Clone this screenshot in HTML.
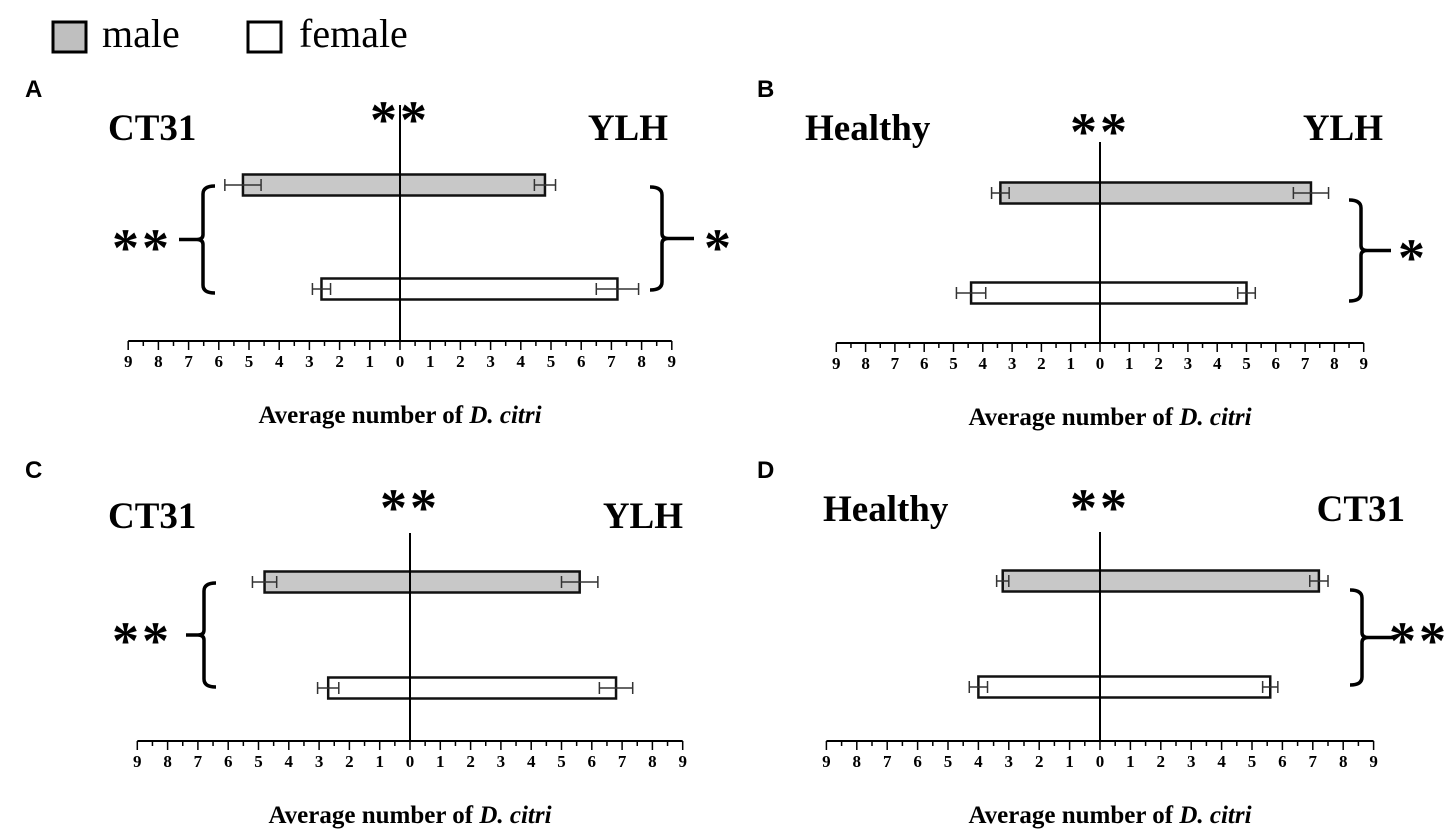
<!DOCTYPE html>
<html><head><meta charset="utf-8"><style>
html,body{margin:0;padding:0;background:#fff}
svg{display:block}
text{font-family:"Liberation Serif",serif;fill:#000}
</style></head><body>
<svg id="fig" width="1453" height="832" viewBox="0 0 1453 832">
<g>
<rect x="53" y="22" width="33" height="30" fill="#bfbfbf" stroke="#000" stroke-width="3"/>
<text x="102" y="47" font-size="40">male</text>
<rect x="248" y="22" width="33" height="30" fill="#fff" stroke="#000" stroke-width="3"/>
<text x="299" y="47" font-size="40">female</text>
</g>
<g id="panels"></g>
</svg>
<script>
// Panel A: CT31 (left) vs YLH (right)
const aLeft = [5.2, 2.6];      // male, female
const aLeftErr = [0.6, 0.3];
const aRight = [4.8, 7.2];
const aRightErr = [0.35, 0.7];
// Panel B: Healthy vs YLH
const bLeft = [3.4, 4.4];
const bLeftErr = [0.3, 0.5];
const bRight = [7.2, 5.0];
const bRightErr = [0.6, 0.3];
// Panel C: CT31 vs YLH
const cLeft = [4.8, 2.7];
const cLeftErr = [0.4, 0.35];
const cRight = [5.6, 6.8];
const cRightErr = [0.6, 0.55];
// Panel D: Healthy vs CT31
const dLeft = [3.2, 4.0];
const dLeftErr = [0.2, 0.3];
const dRight = [7.2, 5.6];
const dRightErr = [0.3, 0.25];
const tickLabels = [9,8,7,6,5,4,3,2,1,0,1,2,3,4,5,6,7,8,9];
const seriesNames = ["male","female"];

const NS = "http://www.w3.org/2000/svg";
const root = document.getElementById("panels");
function mk(tag, attrs, parent) {
  const e = document.createElementNS(NS, tag);
  for (const k in attrs) e.setAttribute(k, attrs[k]);
  parent.appendChild(e);
  return e;
}
function txt(parent, x, y, s, size, anchor, weight) {
  const t = mk("text", {x:x, y:y, "font-size":size, "text-anchor":anchor||"start", "font-weight":weight||"bold"}, parent);
  t.textContent = s;
  return t;
}
function stars(parent, x, y, s) {
  const t = txt(parent, x, y, s, 54, "middle", "bold");
  t.setAttribute("letter-spacing", "3");
  return t;
}
function brace(parent, x, y1, y2, dir, tipLen) {
  const h = 12 * -dir, ym = (y1 + y2) / 2;
  const d = `M${x+h},${y1} Q${x},${y1} ${x},${y1+8} L${x},${ym-5} Q${x},${ym} ${x+dir*6},${ym} L${x+dir*tipLen},${ym} M${x+dir*6},${ym} Q${x},${ym} ${x},${ym+5} L${x},${y2-8} Q${x},${y2} ${x+h},${y2}`;
  const p = mk("path", {d:d, fill:"none", stroke:"#000", "stroke-width":3.5}, parent);
  
  
}
function panel(cfg) {
  const g = mk("g", {}, root);
  
  
  const sx = v => cfg.x0 + v * cfg.unit;
  const lt = txt(g, cfg.letterX, cfg.letterY, cfg.letter, 24, "start", "bold");
  lt.style.fontFamily = '"Liberation Sans",sans-serif';
  
  
  const l1 = txt(g, cfg.leftLabelX, cfg.labelY, cfg.leftName, 37, "start");
  
  
  const l2 = txt(g, cfg.rightLabelX, cfg.labelY, cfg.rightName, 37, "end");
  
  
  const st = stars(g, cfg.x0, cfg.starY, "**");
  
  
  const ax = mk("line", {x1:sx(-9), x2:sx(9), y1:cfg.axisY, y2:cfg.axisY, stroke:"#000", "stroke-width":2}, g);
  
  
  for (let i = -18; i <= 18; i++) {
    const v = i / 2, major = i % 2 === 0;
    const tk = mk("line", {x1:sx(v), x2:sx(v), y1:cfg.axisY, y2:cfg.axisY + (major ? 9 : 5), stroke:"#000", "stroke-width":1.5}, g);
    
    
  }
  tickLabels.forEach((lab, i) => {
    const t = txt(g, sx(i - 9), cfg.axisY + 26, String(lab), 17, "middle");
    
    
  });
  const title = mk("text", {x:cfg.titleX, y:cfg.axisY + 82, "font-size":25, "font-weight":"bold", "text-anchor":"middle"}, g);
  title.innerHTML = 'Average number of <tspan font-style="italic">D. citri</tspan>';
  
  
  seriesNames.forEach((s, k) => {
    const cy = cfg.barY[k], h = 21;
    const r = mk("rect", {x:sx(-cfg.left[k]), y:cy - h/2, width:sx(cfg.right[k]) - sx(-cfg.left[k]), height:h, fill:k === 0 ? "#c8c8c8" : "#fff", stroke:"#111", "stroke-width":2.5}, g);
    
    
    const errs = [[-cfg.left[k], -cfg.leftErr[k]], [cfg.right[k], cfg.rightErr[k]]];
    errs.forEach(([v, e]) => {
      const e1 = sx(v - e), e2 = sx(v + e);
      const eg = mk("path", {d:`M${e1},${cy} L${e2},${cy} M${e1},${cy-6} L${e1},${cy+6} M${e2},${cy-6} L${e2},${cy+6}`, stroke:"#333", "stroke-width":1.5, fill:"none"}, g);
      
      
    });
  });
  const vl = mk("line", {x1:cfg.x0, x2:cfg.x0, y1:cfg.vTop, y2:cfg.axisY, stroke:"#000", "stroke-width":2}, g);
  
  
  cfg.brackets.forEach(b => {
    brace(g, b.x, b.y1, b.y2, b.dir, b.tip);
    const s = stars(g, b.sx, b.sy, b.s);
    
    
  });
}
panel({letter:"A", letterX:25, letterY:97, leftName:"CT31", rightName:"YLH", leftLabelX:108, rightLabelX:668, labelY:140, starY:138,
  x0:400, unit:30.2, axisY:341, vTop:105, barY:[185,289], titleX:400,
  left:aLeft, leftErr:aLeftErr, right:aRight, rightErr:aRightErr,
  brackets:[{x:203, y1:186, y2:293, dir:-1, tip:24, s:"**", sx:142, sy:266},
            {x:662, y1:187, y2:290, dir:1, tip:32, s:"*", sx:719, sy:266}]});
panel({letter:"B", letterX:757, letterY:97, leftName:"Healthy", rightName:"YLH", leftLabelX:805, rightLabelX:1383, labelY:140, starY:150,
  x0:1100, unit:29.3, axisY:343, vTop:142, barY:[193,293], titleX:1110,
  left:bLeft, leftErr:bLeftErr, right:bRight, rightErr:bRightErr,
  brackets:[{x:1361, y1:200, y2:301, dir:1, tip:30, s:"*", sx:1413, sy:276}]});
panel({letter:"C", letterX:25, letterY:478, leftName:"CT31", rightName:"YLH", leftLabelX:108, rightLabelX:683, labelY:528, starY:526,
  x0:410, unit:30.3, axisY:741, vTop:533, barY:[582,688], titleX:410,
  left:cLeft, leftErr:cLeftErr, right:cRight, rightErr:cRightErr,
  brackets:[{x:204, y1:583, y2:687, dir:-1, tip:18, s:"**", sx:142, sy:659}]});
panel({letter:"D", letterX:757, letterY:478, leftName:"Healthy", rightName:"CT31", leftLabelX:823, rightLabelX:1405, labelY:521, starY:526,
  x0:1100, unit:30.4, axisY:741, vTop:532, barY:[581,687], titleX:1110,
  left:dLeft, leftErr:dLeftErr, right:dRight, rightErr:dRightErr,
  brackets:[{x:1362, y1:590, y2:685, dir:1, tip:32, s:"**", sx:1419, sy:659}]});
</script>
</body></html>
